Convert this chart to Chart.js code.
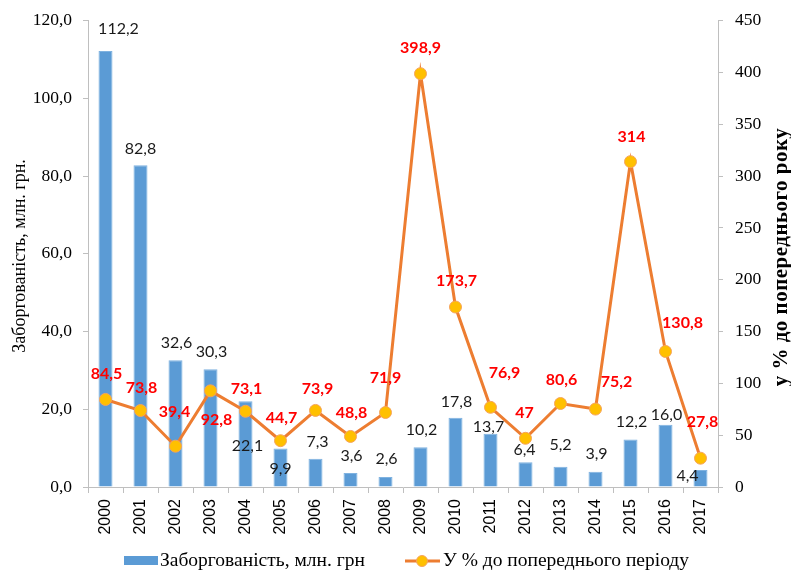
<!DOCTYPE html>
<html>
<head>
<meta charset="utf-8">
<script src="https://cdn.jsdelivr.net/npm/chart.js"></script>
<style>
  html, body { margin: 0; padding: 0; background: #ffffff; }
  #wrap { width: 791px; height: 572px; }
</style>
</head>
<body>
<div id="wrap"><canvas id="c" width="791" height="572"></canvas></div>
<script>
const years = ['2000','2001','2002','2003','2004','2005','2006','2007','2008',
               '2009','2010','2011','2012','2013','2014','2015','2016','2017'];
const debt = [112.2, 82.8, 32.6, 30.3, 22.1, 9.9, 7.3, 3.6, 2.6,
              10.2, 17.8, 13.7, 6.4, 5.2, 3.9, 12.2, 16.0, 4.4];
const pct = [84.5, 73.8, 39.4, 92.8, 73.1, 44.7, 73.9, 48.8, 71.9,
             398.9, 173.7, 76.9, 47, 80.6, 75.2, 314, 130.8, 27.8];
const leftTicks = [0, 20, 40, 60, 80, 100, 120];
const rightTicks = [0, 50, 100, 150, 200, 250, 300, 350, 400, 450];

const debtName = 'Заборгованість, млн. грн';
const pctName = 'У % до попереднього періоду';
const leftTitle = 'Заборгованість, млн. грн.';
const rightTitle = 'у % до попереднього року';

// label placement tweaks (label centre relative to bar top / point centre)
const barLabelShift = [[13,-22],[0,-16],[1,-17],[1,-17],[2,45],[0,20],[2,-17],[1,-17],[1,-18],
                       [1,-18],[1,-16],[-2,-7],[-1,-12],[0,-22],[1,-18],[1,-18],[1,-10],[-13,6]];
const lineLabelShift = [[1,-26],[1,-23],[-1,-34],[6,29],[1,-22],[1,-23],[2,-22],[1,-24],[0,-35],
                        [0,-26],[1,-26],[14,-34],[-1,-25],[1,-24],[21,-27],[1,-25],[17,-29],[2,-36]];

const BAR = '#5B9BD5', LINE = '#ED7D31', MARK = '#FFC000', AXIS = '#BFBFBF';
const SERIF = '"Liberation Serif", "Times New Roman", serif';
const SANS = 'Lato, "Liberation Sans", sans-serif';

const fmt1 = v => v.toFixed(1).replace('.', ',');
const fmtP = v => String(v).replace('.', ',');

const extras = {
  id: 'extras',
  afterDatasetsDraw(chart) {
    const ctx = chart.ctx;
    ctx.save();
    ctx.textAlign = 'center';
    ctx.textBaseline = 'middle';
    ctx.font = '16px ' + SANS;
    ctx.fillStyle = '#1a1a1a';
    chart.getDatasetMeta(0).data.forEach((el, i) => {
      const s = barLabelShift[i];
      ctx.fillText(fmt1(debt[i]), el.x + s[0], el.y + s[1]);
    });
    ctx.font = 'bold 16px ' + SANS;
    ctx.fillStyle = '#FF0000';
    chart.getDatasetMeta(1).data.forEach((el, i) => {
      const s = lineLabelShift[i];
      ctx.fillText(fmtP(pct[i]), el.x + s[0], el.y + s[1]);
    });
    ctx.restore();
  },
  afterDraw(chart) {
    const ctx = chart.ctx;
    ctx.save();
    ctx.fillStyle = '#000';
    ctx.textAlign = 'center';
    ctx.textBaseline = 'middle';
    ctx.font = '18px ' + SERIF;
    ctx.save();
    ctx.translate(20, 256);
    ctx.rotate(-Math.PI / 2);
    ctx.fillText(leftTitle, 0, 0);
    ctx.restore();
    ctx.font = 'bold 21px ' + SERIF;
    ctx.save();
    ctx.translate(782, 257);
    ctx.rotate(-Math.PI / 2);
    try { ctx.letterSpacing = '0.5px'; } catch (e) {}
    ctx.fillText(rightTitle, 0, 0);
    try { ctx.letterSpacing = '0px'; } catch (e) {}
    ctx.restore();
    // legend
    const ly = 561;
    ctx.fillStyle = BAR;
    ctx.fillRect(124, ly - 5, 34, 9);
    ctx.fillStyle = '#000';
    ctx.textAlign = 'left';
    ctx.font = '19.5px ' + SERIF;
    ctx.fillText(debtName, 160, ly);
    ctx.strokeStyle = LINE;
    ctx.lineWidth = 3;
    ctx.beginPath();
    ctx.moveTo(405, ly);
    ctx.lineTo(440, ly);
    ctx.stroke();
    ctx.beginPath();
    ctx.arc(422, ly, 5.5, 0, Math.PI * 2);
    ctx.fillStyle = MARK;
    ctx.fill();
    ctx.lineWidth = 1;
    ctx.strokeStyle = '#F5A35C';
    ctx.stroke();
    ctx.fillStyle = '#000';
    ctx.fillText(pctName, 443, ly);
    ctx.restore();
  }
};

new Chart(document.getElementById('c'), {
  data: {
    labels: years,
    datasets: [
      {
        type: 'bar',
        label: debtName,
        data: debt,
        yAxisID: 'y',
        backgroundColor: BAR,
        borderColor: '#7FB2E0',
        borderWidth: 1,
        barPercentage: 0.4,
        categoryPercentage: 1.0,
        order: 2
      },
      {
        type: 'line',
        label: pctName,
        data: pct,
        yAxisID: 'y1',
        borderColor: LINE,
        borderWidth: 3,
        pointRadius: 6,
        pointHoverRadius: 6,
        pointBackgroundColor: MARK,
        pointBorderColor: '#F5A35C',
        pointBorderWidth: 1,
        tension: 0,
        order: 1
      }
    ]
  },
  options: {
    responsive: false,
    animation: false,
    layout: { padding: { top: 19, left: 0, right: 0, bottom: 0 } },
    plugins: { legend: { display: false }, tooltip: { enabled: false } },
    scales: {
      x: {
        offset: true,
        grid: { offset: true, drawOnChartArea: false, drawTicks: true, tickLength: 6, color: AXIS },
        border: { color: AXIS, width: 1 },
        ticks: {
          minRotation: 90, maxRotation: 90, autoSkip: false, padding: 6,
          color: '#000', font: { family: '"Liberation Sans", Arial, sans-serif', size: 16 }
        },
        afterFit(s) { s.height = 85; }
      },
      y: {
        position: 'left',
        min: 0, max: 120,
        afterBuildTicks(s) { s.ticks = leftTicks.map(v => ({ value: v })); },
        grid: { drawOnChartArea: false, drawTicks: true, tickLength: 5, color: AXIS },
        border: { color: AXIS, width: 1 },
        ticks: {
          padding: 11, color: '#000',
          font: { family: SERIF, size: 17.5, lineHeight: 1 },
          callback: v => fmt1(v)
        },
        afterFit(s) { s.width = 88; }
      },
      y1: {
        position: 'right',
        min: 0, max: 450,
        afterBuildTicks(s) { s.ticks = rightTicks.map(v => ({ value: v })); },
        grid: { drawOnChartArea: false, drawTicks: true, tickLength: 5, color: AXIS },
        border: { color: AXIS, width: 1 },
        ticks: {
          padding: 12, color: '#000',
          font: { family: SERIF, size: 17.5, lineHeight: 1 },
          callback: v => String(v)
        },
        afterFit(s) { s.width = 73; }
      }
    }
  },
  plugins: [extras]
});
</script>
</body>
</html>
